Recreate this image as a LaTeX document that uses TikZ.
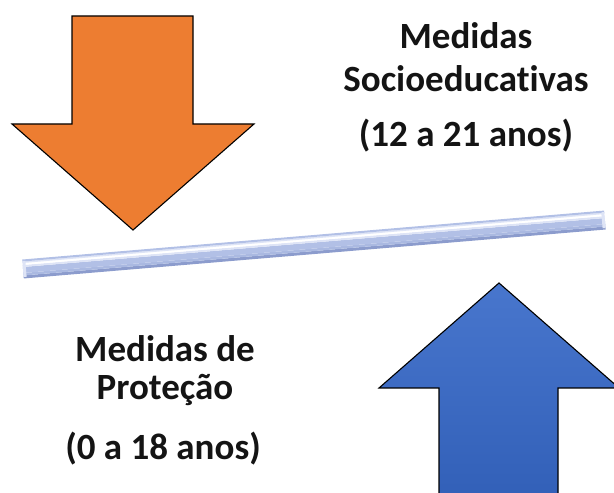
\documentclass[tikz,border=0pt]{standalone}
\usepackage{fontspec}
\setmainfont{Carlito}[Ligatures={NoCommon}]
\definecolor{orangefill}{RGB}{237,125,49}
\definecolor{bluetop}{RGB}{72,118,205}
\definecolor{bluebot}{RGB}{50,96,184}
\definecolor{barmain}{RGB}{178,192,230}
\definecolor{barlight}{RGB}{222,228,246}
\definecolor{bardark}{RGB}{140,156,205}
\definecolor{textcol}{RGB}{20,20,20}
\tikzset{
  arrowshape/.style={draw=black, line width=1.1pt, line join=miter},
  label/.style={font=\bfseries\fontsize{37}{44}\selectfont, text=textcol, anchor=base, inner sep=0pt}
}
\begin{document}
\begin{tikzpicture}[x=1pt,y=1pt]
\useasboundingbox (0,0) rectangle (614,493);
\begin{scope}
\clip (0,0) rectangle (614,493);
% orange down arrow
\fill[orangefill] (72,477) -- (193,477) -- (193,369) -- (254,369) -- (133,263) -- (12,369) -- (72,369) -- cycle;
\draw[arrowshape] (72,477) -- (193,477) -- (193,369) -- (254,369) -- (133,263) -- (12,369) -- (72,369) -- cycle;
% bar
\begin{scope}[shift={(23,224)}, rotate=4.81]
\fill[bardark] (0,-9.5) rectangle (584,-6.5);
\fill[barmain!80!bardark] (0,-6.5) rectangle (584,-4);
\fill[barmain] (0,-4) rectangle (584,2);
\fill[barlight] (0,2) rectangle (584,4);
\fill[white] (0,4) rectangle (584,6);
\fill[barlight] (0,6) rectangle (584,7.5);
\fill[barmain] (0,7.5) rectangle (584,9.5);
\fill[barlight] (0,-8) rectangle (3,8);
\fill[barlight] (581,-8) rectangle (584,8);
\end{scope}
% blue up arrow
\shade[top color=bluetop, bottom color=bluebot] (439,-5) -- (439,105) -- (379,105) -- (499,210) -- (619,105) -- (558,105) -- (558,-5) -- cycle;
\draw[arrowshape] (439,-5) -- (439,105) -- (379,105) -- (499,210) -- (619,105) -- (558,105) -- (558,-5);
\end{scope}
% texts
\node[label] (t1) at (466,444) {Medidas};
\node[label] (t2) at (466,401) {Socioeducativas};
\node[label] (t3) at (466,346) {(12 a 21 anos)};
\node[label] (b1) at (165,131) {Medidas de};
\node[label] (b2) at (165,93) {Proteção};
\node[label] (b3) at (163,33) {(0 a 18 anos)};
\end{tikzpicture}
\end{document}
